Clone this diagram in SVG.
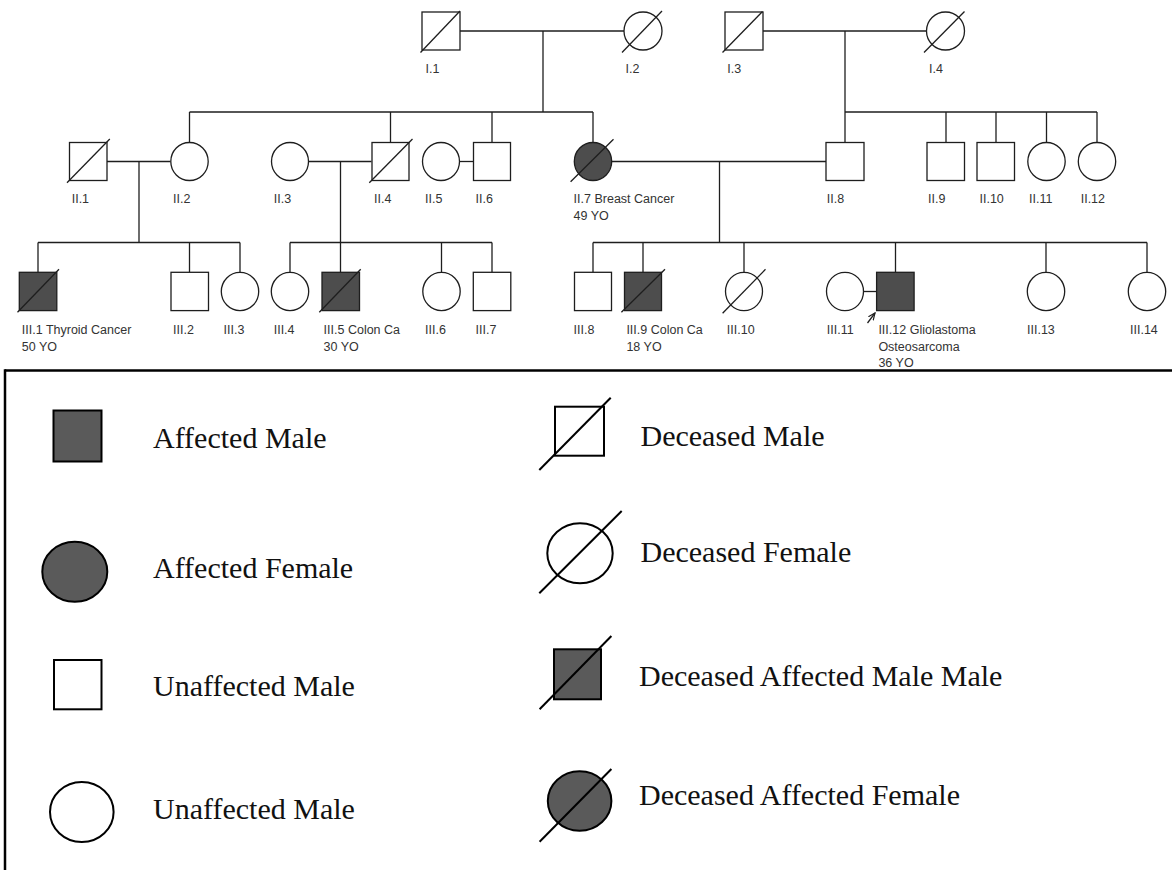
<svg xmlns="http://www.w3.org/2000/svg" width="1172" height="870" viewBox="0 0 1172 870">
<style>
.n{fill:#fff;stroke:#1e1e1e;stroke-width:1.3}
.a{fill:#4d4d4d;stroke:#1e1e1e;stroke-width:1.3}
.d{stroke:#1e1e1e;stroke-width:1.3;fill:none}
.c line{stroke:#1e1e1e;stroke-width:1.3}
.lb{font-family:"Liberation Sans",Arial,sans-serif;font-size:12.5px;fill:#333}
.ln{fill:#fff;stroke:#000;stroke-width:2}
.la{fill:#5a5a5a;stroke:#000;stroke-width:2}
.ld{stroke:#000;stroke-width:2;fill:none}
.lt{font-family:"Liberation Serif","Times New Roman",serif;font-size:30px;fill:#111}
</style>
<defs>
<marker id="ah" markerWidth="8" markerHeight="8" refX="7" refY="4" orient="auto" markerUnits="userSpaceOnUse">
<path d="M0,1 L7,4 L0,7" fill="none" stroke="#1e1e1e" stroke-width="1.2"/>
</marker>
</defs>
<rect width="1172" height="870" fill="#fff"/>

<g id="connectors" class="c">
<line x1="460" y1="31" x2="624" y2="31"/>
<line x1="543" y1="31" x2="543" y2="112"/>
<line x1="189.5" y1="112" x2="593" y2="112"/>
<line x1="189.5" y1="112" x2="189.5" y2="142"/>
<line x1="390.5" y1="112" x2="390.5" y2="142"/>
<line x1="492" y1="112" x2="492" y2="142"/>
<line x1="593" y1="112" x2="593" y2="142"/>
<line x1="763" y1="31" x2="926.5" y2="31"/>
<line x1="845" y1="31" x2="845" y2="112"/>
<line x1="845" y1="112" x2="1097" y2="112"/>
<line x1="845" y1="112" x2="845" y2="142"/>
<line x1="946" y1="112" x2="946" y2="142"/>
<line x1="996" y1="112" x2="996" y2="142"/>
<line x1="1046.5" y1="112" x2="1046.5" y2="142"/>
<line x1="1097" y1="112" x2="1097" y2="142"/>
<line x1="107" y1="161.5" x2="170.5" y2="161.5"/>
<line x1="139" y1="161.5" x2="139" y2="242.5"/>
<line x1="38" y1="242.5" x2="240" y2="242.5"/>
<line x1="38" y1="242.5" x2="38" y2="272"/>
<line x1="189.5" y1="242.5" x2="189.5" y2="272"/>
<line x1="240" y1="242.5" x2="240" y2="272"/>
<line x1="309" y1="161.5" x2="371.5" y2="161.5"/>
<line x1="340.5" y1="161.5" x2="340.5" y2="242.5"/>
<line x1="290" y1="242.5" x2="492" y2="242.5"/>
<line x1="290" y1="242.5" x2="290" y2="272"/>
<line x1="340.5" y1="242.5" x2="340.5" y2="272"/>
<line x1="441.5" y1="242.5" x2="441.5" y2="272"/>
<line x1="492" y1="242.5" x2="492" y2="272"/>
<line x1="460" y1="161.5" x2="473" y2="161.5"/>
<line x1="612" y1="161.5" x2="826" y2="161.5"/>
<line x1="719.5" y1="161.5" x2="719.5" y2="242.5"/>
<line x1="593" y1="242.5" x2="1147" y2="242.5"/>
<line x1="593" y1="242.5" x2="593" y2="272"/>
<line x1="643" y1="242.5" x2="643" y2="272"/>
<line x1="744" y1="242.5" x2="744" y2="272"/>
<line x1="895.5" y1="242.5" x2="895.5" y2="272"/>
<line x1="1046" y1="242.5" x2="1046" y2="272"/>
<line x1="1147" y1="242.5" x2="1147" y2="272"/>
<line x1="864" y1="291.5" x2="876.5" y2="291.5"/>
<line x1="867.5" y1="323" x2="875" y2="313" marker-end="url(#ah)"/>
</g>

<g id="I1"><rect class="n" x="422" y="12" width="38" height="38"/><line class="d" x1="420.5" y1="52.5" x2="460" y2="11"/><text class="lb" x="425.5" y="73.3">I.1</text></g>
<g id="I2"><circle class="n" cx="643" cy="31" r="19"/><line class="d" x1="622" y1="52.5" x2="662" y2="11"/><text class="lb" x="625.5" y="73.3">I.2</text></g>
<g id="I3"><rect class="n" x="725" y="12" width="38" height="38"/><line class="d" x1="722.5" y1="52.5" x2="762.5" y2="11.5"/><text class="lb" x="727.3" y="73.3">I.3</text></g>
<g id="I4"><circle class="n" cx="945.5" cy="31" r="19"/><line class="d" x1="924" y1="52.5" x2="964.5" y2="11.5"/><text class="lb" x="929" y="73.3">I.4</text></g>

<g id="II1"><rect class="n" x="69.5" y="142.5" width="37.5" height="38"/><line class="d" x1="67" y1="182.7" x2="109.8" y2="139"/><text class="lb" x="71.7" y="203">II.1</text></g>
<g id="II2"><ellipse class="n" cx="189.5" cy="161.5" rx="18.7" ry="19"/><text class="lb" x="173" y="203">II.2</text></g>
<g id="II3"><ellipse class="n" cx="290" cy="161.5" rx="18.5" ry="19"/><text class="lb" x="273.8" y="203">II.3</text></g>
<g id="II4"><rect class="n" x="372" y="142.5" width="37" height="38"/><line class="d" x1="369.3" y1="182.7" x2="412.5" y2="139"/><text class="lb" x="374" y="203">II.4</text></g>
<g id="II5"><ellipse class="n" cx="441" cy="161.5" rx="18.5" ry="19"/><text class="lb" x="425" y="203">II.5</text></g>
<g id="II6"><rect class="n" x="473.5" y="142.5" width="37" height="38"/><text class="lb" x="475.5" y="203">II.6</text></g>
<g id="II7"><ellipse class="a" cx="593" cy="161.5" rx="18.7" ry="19"/><line class="d" x1="570.6" y1="181.7" x2="613.5" y2="139.3"/><text class="lb" x="573.6" y="203">II.7 Breast Cancer</text><text class="lb" x="573.6" y="219.5">49 YO</text></g>
<g id="II8"><rect class="n" x="826" y="142.5" width="38" height="38"/><text class="lb" x="826.8" y="203">II.8</text></g>
<g id="II9"><rect class="n" x="927" y="142.5" width="37.5" height="38"/><text class="lb" x="928" y="203">II.9</text></g>
<g id="II10"><rect class="n" x="977" y="142.5" width="37.5" height="38"/><text class="lb" x="979.5" y="203">II.10</text></g>
<g id="II11"><ellipse class="n" cx="1046.5" cy="161.5" rx="18.7" ry="19"/><text class="lb" x="1029" y="203">II.11</text></g>
<g id="II12"><ellipse class="n" cx="1097" cy="161.5" rx="18.7" ry="19"/><text class="lb" x="1080.7" y="203">II.12</text></g>

<g id="III1"><rect class="a" x="19.3" y="272.3" width="37.5" height="38.3"/><line class="d" x1="17.5" y1="312.3" x2="59" y2="269.3"/><text class="lb" x="21.8" y="334">III.1 Thyroid Cancer</text><text class="lb" x="21.8" y="350.5">50 YO</text></g>
<g id="III2"><rect class="n" x="171" y="272.3" width="37.5" height="38.3"/><text class="lb" x="173" y="334">III.2</text></g>
<g id="III3"><ellipse class="n" cx="240" cy="291.5" rx="18.7" ry="19.2"/><text class="lb" x="223.6" y="334">III.3</text></g>
<g id="III4"><ellipse class="n" cx="290" cy="291.5" rx="18.7" ry="19.2"/><text class="lb" x="273.7" y="334">III.4</text></g>
<g id="III5"><rect class="a" x="322" y="272.3" width="37.5" height="38.3"/><line class="d" x1="319.3" y1="312.3" x2="360.7" y2="269.3"/><text class="lb" x="323.6" y="334">III.5 Colon Ca</text><text class="lb" x="323.6" y="350.5">30 YO</text></g>
<g id="III6"><ellipse class="n" cx="441.5" cy="291.5" rx="18.7" ry="19.2"/><text class="lb" x="425" y="334">III.6</text></g>
<g id="III7"><rect class="n" x="473.3" y="272.3" width="37.5" height="38.3"/><text class="lb" x="475.5" y="334">III.7</text></g>
<g id="III8"><rect class="n" x="574.5" y="272.3" width="37" height="38.3"/><text class="lb" x="573.6" y="334">III.8</text></g>
<g id="III9"><rect class="a" x="624.5" y="272.3" width="37" height="38.3"/><line class="d" x1="621.4" y1="312.3" x2="665" y2="269.3"/><text class="lb" x="626.4" y="334">III.9 Colon Ca</text><text class="lb" x="626.4" y="350.5">18 YO</text></g>
<g id="III10"><ellipse class="n" cx="744" cy="291.5" rx="18.5" ry="19.2"/><line class="d" x1="722.6" y1="313.3" x2="765.5" y2="269.3"/><text class="lb" x="726.8" y="334">III.10</text></g>
<g id="III11"><ellipse class="n" cx="845" cy="291.5" rx="18.5" ry="19.2"/><text class="lb" x="826.8" y="334">III.11</text></g>
<g id="III12"><rect class="a" x="876.6" y="272.3" width="37.5" height="38.3"/><text class="lb" x="878.4" y="334">III.12 Gliolastoma</text><text class="lb" x="878.4" y="350.5">Osteosarcoma</text><text class="lb" x="878.4" y="367">36 YO</text></g>
<g id="III13"><ellipse class="n" cx="1046" cy="291.5" rx="18.7" ry="19.2"/><text class="lb" x="1027" y="334">III.13</text></g>
<g id="III14"><ellipse class="n" cx="1147" cy="291.5" rx="18.7" ry="19.2"/><text class="lb" x="1130" y="334">III.14</text></g>

<g id="legend">
<line x1="5" y1="370.5" x2="1172" y2="370.5" stroke="#000" stroke-width="2.5"/>
<line x1="5" y1="369.3" x2="5" y2="870" stroke="#000" stroke-width="2.5"/>
<g id="leg-affected-male"><rect class="la" x="53.5" y="410.5" width="48" height="51"/><text class="lt" x="153" y="448">Affected Male</text></g>
<g id="leg-affected-female"><ellipse class="la" cx="74.8" cy="571.7" rx="32.5" ry="30"/><text class="lt" x="153" y="578">Affected Female</text></g>
<g id="leg-unaffected-male"><rect class="ln" x="54" y="660" width="47.5" height="49.3"/><text class="lt" x="153" y="696">Unaffected Male</text></g>
<g id="leg-unaffected-female"><ellipse class="ln" cx="81.8" cy="812" rx="31.8" ry="30"/><text class="lt" x="153" y="819">Unaffected Male</text></g>
<g id="leg-deceased-male"><rect class="ln" x="555" y="406.7" width="49" height="49"/><line class="ld" x1="539.3" y1="470" x2="610.7" y2="397.7"/><text class="lt" x="640.5" y="445.7">Deceased Male</text></g>
<g id="leg-deceased-female"><ellipse class="ln" cx="580" cy="553.3" rx="32.7" ry="30"/><line class="ld" x1="539.3" y1="593.3" x2="621.7" y2="511"/><text class="lt" x="640.5" y="561.7">Deceased Female</text></g>
<g id="leg-deceased-affected-male"><rect class="la" x="554" y="649.3" width="47" height="50"/><line class="ld" x1="539.6" y1="709.3" x2="611.4" y2="636"/><text class="lt" x="639" y="686">Deceased Affected Male Male</text></g>
<g id="leg-deceased-affected-female"><ellipse class="la" cx="579.6" cy="801" rx="31.8" ry="29.8"/><line class="ld" x1="539.6" y1="841.7" x2="611.4" y2="769"/><text class="lt" x="639" y="805">Deceased Affected Female</text></g>
</g>
</svg>
